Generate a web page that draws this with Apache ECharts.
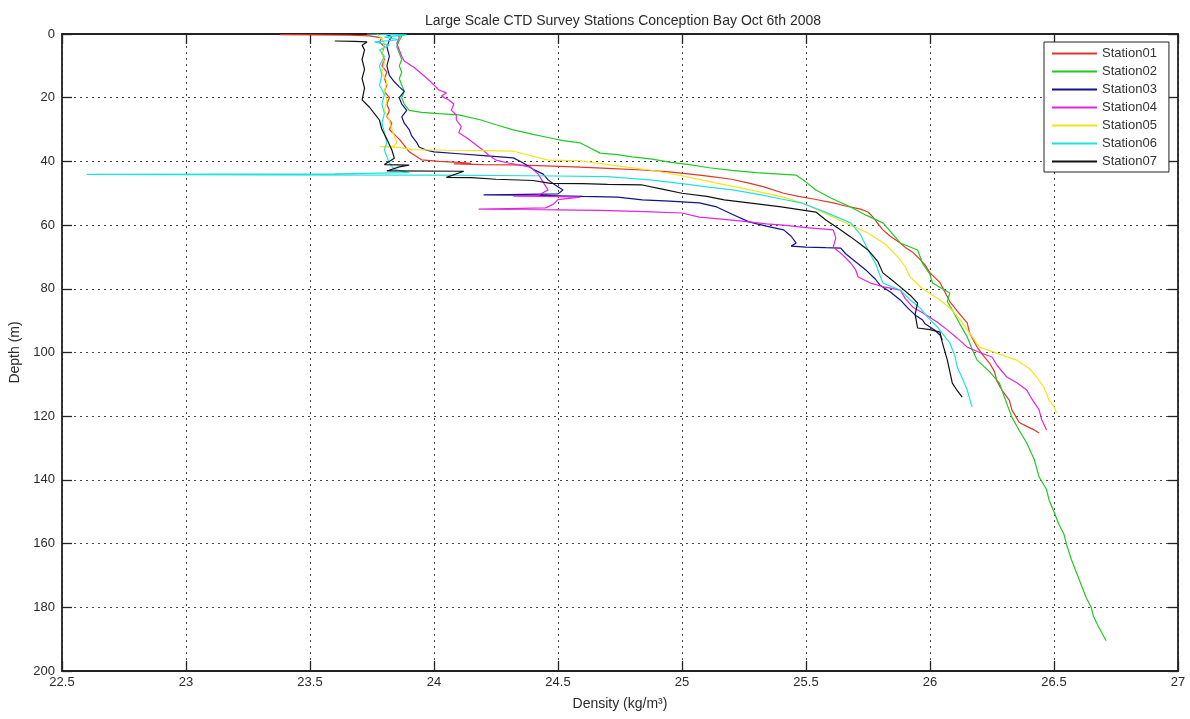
<!DOCTYPE html>
<html>
<head>
<meta charset="utf-8">
<script src="https://cdn.jsdelivr.net/npm/echarts@6/dist/echarts.min.js"></script>
<style>
  html, body { margin: 0; padding: 0; background: #fff; }
  #chart { width: 1190px; height: 719px; }
</style>
</head>
<body>
<div id="chart"></div>
<script>
// CTD density profiles: each point is [density (kg/m^3), depth (m)], ordered by depth
const titleText = 'Large Scale CTD Survey Stations Conception Bay Oct 6th 2008';
const xName = 'Density (kg/m\u00B3)';
const yName = 'Depth (m)';
const stationNames = ['Station01', 'Station02', 'Station03', 'Station04', 'Station05', 'Station06', 'Station07'];
const stationColors = ['#e0362a', '#22c822', '#12128a', '#e024e0', '#f2e41c', '#22e0e0', '#111111'];

const densityRange = [22.5, 27, 0.5];
const depthRange = [0, 200, 20];

const station01 = [[23.38,0.2],[23.52,0.3],[23.66,0.4],[23.74,0.6],[23.79,1.2],[23.78,2.5],[23.8,4],[23.79,6],[23.8,8],[23.79,10],[23.81,12],[23.8,14],[23.81,16],[23.8,18],[23.82,20],[23.81,22],[23.82,24],[23.81,26],[23.83,28],[23.82,30],[23.84,31.5],[23.86,33],[23.88,35],[23.9,37],[23.92,38],[23.95,39.5],[24.02,40],[24.1,40.3],[24.15,40.6],[24.08,40.8],[24.2,41],[24.32,41.1],[24.45,41.4],[24.59,41.8],[24.7,42.2],[24.84,42.7],[24.95,43.3],[25.07,44.3],[25.12,44.8],[25.2,45.6],[25.27,46.8],[25.33,48],[25.41,50],[25.47,51],[25.53,51.8],[25.61,53],[25.66,54],[25.72,55],[25.75,55.9],[25.77,57.5],[25.79,59.5],[25.81,61.5],[25.84,63.5],[25.88,65.6],[25.9,67],[25.93,68.5],[25.95,70],[25.98,72.5],[26.0,75],[26.04,78],[26.06,81],[26.08,84],[26.11,87],[26.15,90.7],[26.16,94],[26.19,98.3],[26.21,100.5],[26.24,103.3],[26.26,106],[26.27,109],[26.29,111.8],[26.32,115],[26.33,118],[26.36,122],[26.39,123.2],[26.42,124.3],[26.44,125.3]];

const station02 = [[23.84,0],[23.87,0.8],[23.86,2],[23.85,4],[23.86,6],[23.87,8],[23.86,10],[23.87,12],[23.86,14],[23.87,16],[23.88,18],[23.87,20],[23.88,22],[23.9,24],[23.95,24.6],[24.02,25],[24.1,25.4],[24.19,27],[24.25,28.5],[24.32,30.1],[24.4,31.5],[24.46,32.5],[24.52,33.5],[24.59,34.2],[24.63,35.8],[24.67,37.4],[24.74,37.9],[24.8,38.6],[24.88,39.3],[24.95,40.2],[25.03,41],[25.11,42],[25.2,42.8],[25.3,43.5],[25.38,43.9],[25.46,44.3],[25.5,46.5],[25.54,49],[25.6,51.5],[25.68,54.3],[25.74,56.8],[25.81,59.3],[25.84,62],[25.88,65.6],[25.95,67.8],[25.97,72],[26.0,75.5],[26.01,78.2],[26.08,81.3],[26.07,84],[26.09,86.7],[26.12,91],[26.15,95.1],[26.17,99],[26.19,102.4],[26.24,106],[26.28,109.6],[26.3,114],[26.33,120.3],[26.36,124.5],[26.39,128.4],[26.42,133.5],[26.44,139.1],[26.47,143],[26.48,146.3],[26.5,150],[26.52,154],[26.54,157],[26.55,160.1],[26.57,165],[26.59,169],[26.61,173],[26.63,177],[26.65,180],[26.66,183],[26.68,186.2],[26.7,189],[26.71,190.5]];

const station03 = [[23.8,0],[23.83,0.8],[23.82,2],[23.81,4],[23.82,7],[23.81,10],[23.82,13],[23.84,15],[23.86,16.6],[23.88,18],[23.86,20],[23.87,22],[23.89,24],[23.87,26],[23.88,28],[23.9,30],[23.91,32],[23.93,34],[23.94,35.5],[23.97,36.5],[24.0,37],[24.1,37.6],[24.2,38.2],[24.32,38.9],[24.36,40.5],[24.4,42.5],[24.44,44],[24.46,45.8],[24.49,47.5],[24.52,49],[24.5,50.2],[24.3,50.4],[24.2,50.5],[24.4,50.6],[24.5,50.8],[24.6,51],[24.74,51.2],[24.84,52.1],[24.95,52.5],[25.07,53],[25.14,54.3],[25.2,56.5],[25.27,59],[25.34,60.3],[25.41,61.5],[25.44,63.5],[25.46,65.6],[25.44,66.6],[25.5,66.9],[25.58,67.1],[25.64,67.2],[25.66,69],[25.7,71.5],[25.74,74],[25.78,77],[25.8,79],[25.84,81],[25.88,83.5],[25.91,86],[25.94,88.2],[25.97,89.8],[25.98,91],[26.02,93],[26.04,94.5],[26.05,96]];

const station04 = [[23.85,0],[23.86,1],[23.85,3],[23.86,5],[23.87,7],[23.88,8.5],[23.92,10.5],[23.95,12.5],[23.98,14.5],[24.0,16],[24.02,17.6],[24.05,18.5],[24.03,19.5],[24.06,20.7],[24.08,22],[24.07,23.9],[24.09,25.5],[24.09,27],[24.11,29],[24.1,31],[24.13,32.5],[24.16,34.2],[24.19,36],[24.22,38],[24.25,39.6],[24.3,40.5],[24.39,41.8],[24.42,44],[24.44,46.5],[24.46,49],[24.42,50.6],[24.32,50.9],[24.45,51],[24.59,51.2],[24.5,52],[24.48,53.5],[24.45,54.6],[24.3,54.8],[24.18,55],[24.35,55.1],[24.5,55.2],[24.67,55.4],[24.85,55.8],[25.0,56.2],[25.07,57.5],[25.18,58.3],[25.27,59],[25.34,59.6],[25.41,60],[25.5,60.8],[25.61,61.5],[25.62,64],[25.61,66.9],[25.65,69.5],[25.68,71.9],[25.7,74],[25.71,76.3],[25.76,78.2],[25.82,79.5],[25.88,80.4],[25.9,83],[25.93,85.7],[25.98,88],[26.03,90.5],[26.07,92.9],[26.11,95.5],[26.15,98.3],[26.2,100],[26.25,101.4],[26.27,104],[26.31,107.7],[26.35,109.5],[26.39,111.8],[26.41,114.5],[26.44,118],[26.45,121],[26.47,124.3]];

const station05 = [[23.77,0],[23.79,1.5],[23.8,3],[23.79,6],[23.8,9],[23.79,12],[23.81,15],[23.8,18],[23.81,21],[23.8,24],[23.82,27],[23.83,30],[23.84,32],[23.85,34],[23.84,35.2],[23.78,35.4],[23.86,35.6],[23.91,36.3],[24.05,36.5],[24.2,36.6],[24.32,36.8],[24.38,38],[24.46,39.6],[24.59,39.8],[24.7,41],[24.87,42.7],[25.0,44.5],[25.14,46.8],[25.28,49],[25.41,51.2],[25.5,53.5],[25.61,57.5],[25.68,60],[25.75,62.5],[25.82,66],[25.87,70],[25.9,73],[25.92,76.3],[25.97,80],[26.04,83.5],[26.08,86],[26.12,89.5],[26.15,92.9],[26.2,98.3],[26.28,100.5],[26.35,102.4],[26.4,105],[26.43,107.7],[26.46,111],[26.48,114.9],[26.5,117],[26.51,119]];

const station06 = [[23.73,0],[23.89,0.3],[23.8,1],[23.86,1.8],[23.76,2.5],[23.82,3.5],[23.78,5],[23.8,7],[23.78,10],[23.79,13],[23.78,16],[23.8,19],[23.79,22],[23.8,25],[23.79,28],[23.8,31],[23.81,34],[23.8,36.4],[23.81,38.5],[23.82,40.5],[23.84,42.5],[23.9,43.5],[23.6,43.9],[23.2,44],[22.6,44.1],[23.3,44.2],[24.0,44.3],[24.4,44.5],[24.7,44.8],[24.87,45.8],[25.0,47],[25.1,48],[25.21,49],[25.32,50.5],[25.4,51.8],[25.48,53],[25.58,56],[25.68,59.3],[25.72,63],[25.75,67.8],[25.78,72],[25.81,78.2],[25.88,80.4],[25.92,83.5],[25.96,86],[25.99,88.9],[26.03,92],[26.06,95],[26.08,97],[26.1,101],[26.11,104.6],[26.13,108],[26.15,111.8],[26.16,114.5],[26.17,117.1]];

const station07 = [[23.6,2.2],[23.68,2.3],[23.73,2.5],[23.71,3.5],[23.72,5],[23.71,8],[23.72,11],[23.71,14],[23.72,17],[23.71,20.7],[23.74,23],[23.77,26],[23.78,27],[23.79,30],[23.81,33],[23.83,36.4],[23.84,39],[23.8,41],[23.9,41.2],[23.86,41.7],[23.81,43],[24.12,43.1],[24.05,45],[24.15,45.1],[24.25,45.6],[24.4,46],[24.47,46.9],[24.6,47],[24.7,47.2],[24.84,47.4],[24.92,48.7],[25.0,50],[25.1,51],[25.17,52.1],[25.27,53],[25.4,54.3],[25.54,55.9],[25.58,58.4],[25.63,61],[25.68,63.7],[25.72,66],[25.75,67.8],[25.79,71.5],[25.81,75],[25.85,77.5],[25.88,79.4],[25.92,82],[25.95,84.5],[25.94,88],[25.95,92.3],[26.0,92.8],[26.04,93.6],[26.05,97],[26.07,102.4],[26.08,106],[26.09,109.6],[26.11,112],[26.13,114]];

const stationData = [station01, station02, station03, station04, station05, station06, station07];

const font = '"Liberation Sans", Arial, Helvetica, sans-serif';
const labelColor = '#2a2a2a';

const chart = echarts.init(document.getElementById('chart'), null, { renderer: 'canvas' });

const gridLine = { show: true, lineStyle: { color: '#444', width: 1, type: [2, 4] } };
const frameLine = { show: true, onZero: false, lineStyle: { color: '#222', width: 1.8 } };
const innerTick = { show: true, inside: true, length: 10, lineStyle: { color: '#222', width: 1.3 } };

const option = {
  backgroundColor: '#fff',
  animation: false,
  title: {
    text: titleText,
    left: 618,
    top: 9,
    textAlign: 'center',
    textStyle: { fontFamily: font, fontSize: 14, fontWeight: 'normal', color: labelColor }
  },
  legend: {
    data: stationNames,
    orient: 'vertical',
    left: 1044,
    top: 42,
    padding: [5, 12, 4, 8],
    itemGap: 5,
    itemWidth: 45,
    itemHeight: 2,
    icon: 'rect',
    backgroundColor: '#fff',
    borderColor: '#222',
    borderWidth: 1,
    borderRadius: 0,
    textStyle: { fontFamily: font, fontSize: 13, color: '#333' }
  },
  grid: { left: 62, right: 12, top: 34, bottom: 48, containLabel: false },
  xAxis: [
    {
      type: 'value',
      min: densityRange[0], max: densityRange[1], interval: densityRange[2],
      position: 'bottom',
      name: xName, nameLocation: 'middle', nameGap: 26,
      nameTextStyle: { fontFamily: font, fontSize: 14, color: labelColor },
      axisLine: frameLine, axisTick: innerTick, splitLine: gridLine,
      axisLabel: { fontFamily: font, fontSize: 13, color: labelColor, margin: 5 }
    },
    {
      type: 'value',
      min: densityRange[0], max: densityRange[1], interval: densityRange[2],
      position: 'top',
      axisLine: frameLine, axisTick: innerTick, splitLine: { show: false },
      axisLabel: { show: false }
    }
  ],
  yAxis: [
    {
      type: 'value', inverse: true,
      min: depthRange[0], max: depthRange[1], interval: depthRange[2],
      position: 'left',
      name: yName, nameLocation: 'middle', nameGap: 40, nameRotate: 90,
      nameTextStyle: { fontFamily: font, fontSize: 14, color: labelColor },
      axisLine: frameLine, axisTick: innerTick, splitLine: gridLine,
      axisLabel: { fontFamily: font, fontSize: 13, color: labelColor, margin: 7 }
    },
    {
      type: 'value', inverse: true,
      min: depthRange[0], max: depthRange[1], interval: depthRange[2],
      position: 'right',
      axisLine: frameLine, axisTick: innerTick, splitLine: { show: false },
      axisLabel: { show: false }
    }
  ],
  series: stationNames.map((name, i) => ({
    name: name,
    type: 'line',
    xAxisIndex: 0,
    yAxisIndex: 0,
    data: stationData[i],
    showSymbol: false,
    symbol: 'none',
    smooth: false,
    color: stationColors[i],
    lineStyle: { color: stationColors[i], width: 1.2 },
    emphasis: { disabled: true }
  }))
};

chart.setOption(option);
</script>
</body>
</html>
